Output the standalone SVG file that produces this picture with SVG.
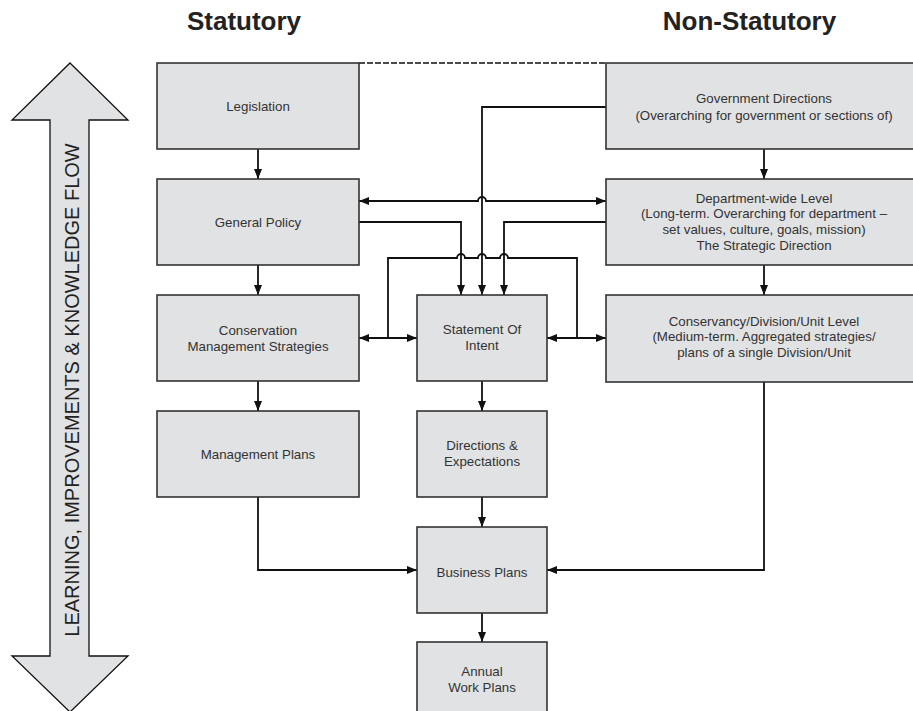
<svg xmlns="http://www.w3.org/2000/svg" width="913" height="711" viewBox="0 0 913 711">
<defs>
<marker id="ah" viewBox="0 0 10 8" refX="10" refY="4" markerWidth="10" markerHeight="8" markerUnits="userSpaceOnUse" orient="auto-start-reverse">
<path d="M0,0 L10,4 L0,8 z" fill="#111"/>
</marker>
<style>
.box{fill:#e1e2e4;stroke:#333;stroke-width:1.6}
.t{font-family:"Liberation Sans",Arial,sans-serif;font-size:13.3px;fill:#333;text-anchor:middle}
.h{font-family:"Liberation Sans",Arial,sans-serif;font-size:26px;font-weight:bold;fill:#222;text-anchor:middle}
.c{fill:none;stroke:#111;stroke-width:1.8}
.a{marker-end:url(#ah)}
.aa{marker-start:url(#ah);marker-end:url(#ah)}
</style>
</defs>
<rect width="913" height="711" fill="#fff"/>

<g id="headings">
<text class="h" x="244" y="30">Statutory</text>
<text class="h" x="749.5" y="30">Non-Statutory</text>
</g>

<g id="flow-arrow">
<polygon points="70,63 128,120 89,120 89,656 128,656 70,712 12,656 50,656 50,120 12,120" fill="#e1e2e4" stroke="#111" stroke-width="1.3"/>
<text transform="translate(78.5,390) rotate(-90)" font-family="'Liberation Sans',Arial,sans-serif" font-size="20" fill="#222" text-anchor="middle">LEARNING, IMPROVEMENTS &amp; KNOWLEDGE FLOW</text>
</g>

<g id="connectors">
<path d="M359 63 H606" fill="none" stroke="#111" stroke-width="1.3" stroke-dasharray="6 2"/>
<path class="c a" d="M606 107 H482 V295"/>
<path class="c aa" d="M359 201 H478 a4 4 0 0 1 8 0 H606"/>
<path class="c a" d="M359 222 H461 V295"/>
<path class="c a" d="M606 222 H504 V295"/>
<path class="c" d="M388 338 V258 H457 a4 4 0 0 1 8 0 H478 a4 4 0 0 1 8 0 H500 a4 4 0 0 1 8 0 H577 V338"/>
<path class="c aa" d="M359 338 H417"/>
<path class="c aa" d="M547 338 H606"/>
<path class="c a" d="M258 149 V179"/>
<path class="c a" d="M258 265 V295"/>
<path class="c a" d="M258 381 V411"/>
<path class="c a" d="M764 149 V179"/>
<path class="c a" d="M764 265 V295"/>
<path class="c a" d="M482 381 V411"/>
<path class="c a" d="M482 497 V527"/>
<path class="c a" d="M482 613 V642"/>
<path class="c a" d="M258 497 V570 H417"/>
<path class="c a" d="M764 382 V570 H547"/>
</g>

<g id="legislation">
<rect class="box" x="157" y="63" width="202" height="86"/>
<text class="t" x="258" y="111">Legislation</text>
</g>
<g id="general-policy">
<rect class="box" x="157" y="179" width="202" height="86"/>
<text class="t" x="258" y="227">General Policy</text>
</g>
<g id="conservation-management-strategies">
<rect class="box" x="157" y="295" width="202" height="86"/>
<text class="t" x="258" y="334.5">Conservation</text>
<text class="t" x="258" y="350.5">Management Strategies</text>
</g>
<g id="management-plans">
<rect class="box" x="157" y="411" width="202" height="86"/>
<text class="t" x="258" y="459">Management Plans</text>
</g>
<g id="statement-of-intent">
<rect class="box" x="417" y="295" width="130" height="86"/>
<text class="t" x="482" y="333.5">Statement Of</text>
<text class="t" x="482" y="349.5">Intent</text>
</g>
<g id="directions-expectations">
<rect class="box" x="417" y="411" width="130" height="86"/>
<text class="t" x="482" y="449.5">Directions &amp;</text>
<text class="t" x="482" y="465.5">Expectations</text>
</g>
<g id="business-plans">
<rect class="box" x="417" y="527" width="130" height="86"/>
<text class="t" x="482" y="576.5">Business Plans</text>
</g>
<g id="annual-work-plans">
<rect class="box" x="417" y="642" width="130" height="80"/>
<text class="t" x="482" y="675.5">Annual</text>
<text class="t" x="482" y="691.5">Work Plans</text>
</g>
<g id="government-directions">
<rect class="box" x="606" y="63" width="316" height="86"/>
<text class="t" x="764" y="103">Government Directions</text>
<text class="t" x="764" y="119.5">(Overarching for government or sections of)</text>
</g>
<g id="department-wide-level">
<rect class="box" x="606" y="179" width="316" height="86"/>
<text class="t" x="764" y="202.5">Department-wide Level</text>
<text class="t" x="764" y="218">(Long-term. Overarching for department –</text>
<text class="t" x="764" y="234">set values, culture, goals, mission)</text>
<text class="t" x="764" y="249.5">The Strategic Direction</text>
</g>
<g id="conservancy-level">
<rect class="box" x="606" y="295" width="316" height="87"/>
<text class="t" x="764" y="325.5">Conservancy/Division/Unit Level</text>
<text class="t" x="764" y="341">(Medium-term. Aggregated strategies/</text>
<text class="t" x="764" y="356.5">plans of a single Division/Unit</text>
</g>
</svg>
